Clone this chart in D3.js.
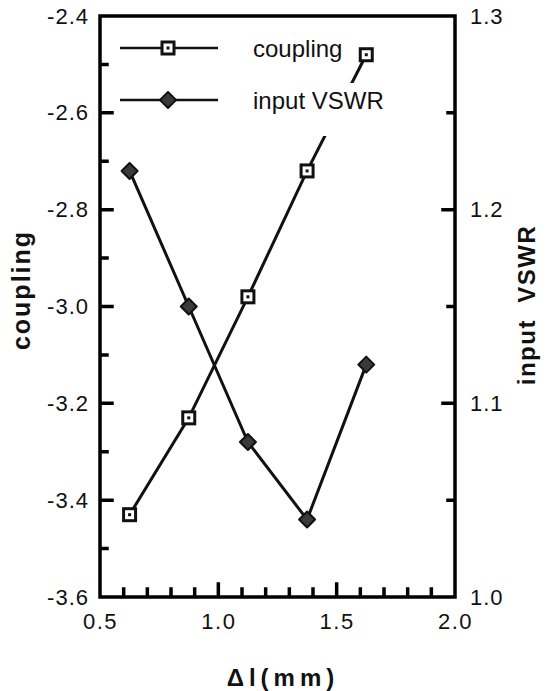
<!DOCTYPE html>
<html>
<head>
<meta charset="utf-8">
<script src="https://cdn.jsdelivr.net/npm/d3@7"></script>
<style>
  body { margin: 0; background: #fff; overflow: hidden; }
  #chart { display: block; }
</style>
</head>
<body>
<svg id="chart"></svg>
<script>
// data
const deltaL = [0.625, 0.875, 1.125, 1.375, 1.625];
const coupling = [-3.43, -3.23, -2.98, -2.72, -2.48];
const inputVSWR = [1.22, 1.15, 1.08, 1.04, 1.12];

const xMajor = [0.5, 1.0, 1.5, 2.0];
const xMinor = [0.6, 0.7, 0.8, 0.9, 1.1, 1.2, 1.3, 1.4, 1.6, 1.7, 1.8, 1.9];
const yLeftMajor = [-2.4, -2.6, -2.8, -3.0, -3.2, -3.4, -3.6];
const yLeftMinor = [-2.5, -2.7, -2.9, -3.1, -3.3, -3.5];
const yRightMajor = [1.0, 1.1, 1.2, 1.3];
const yRightMinor = [1.05, 1.15, 1.25];

const legendLabels = ["coupling", "input VSWR"];

const W = 549, H = 691;
const margin = { top: 16, right: 94, bottom: 94, left: 100 };
const width = W - margin.left - margin.right;
const height = H - margin.top - margin.bottom;
const font = "'Liberation Sans', Arial, Helvetica, sans-serif";

const svg = d3.select("#chart").attr("width", W).attr("height", H);
const g = svg.append("g").attr("transform", "translate(" + margin.left + "," + margin.top + ")");

const x = d3.scaleLinear().domain([0.5, 2.0]).range([0, width]);
const yL = d3.scaleLinear().domain([-3.6, -2.4]).range([height, 0]);
const yR = d3.scaleLinear().domain([1.0, 1.3]).range([height, 0]);

// plain hyphen for negatives, like the original
const fmt = d => d.toFixed(1);

// tick labels through d3 axes
function labels(axis, sel, spacing) {
  sel.call(axis.tickSize(0))
    .call(s => s.select(".domain").remove())
    .selectAll("text")
    .attr("fill", "#111")
    .style("font-family", font).style("font-size", "22px")
    .attr("letter-spacing", spacing);
}
labels(d3.axisBottom(x).tickValues(xMajor).tickPadding(16).tickFormat(fmt),
  g.append("g").attr("transform", "translate(0," + height + ")"), 1.5);
labels(d3.axisLeft(yL).tickValues(yLeftMajor).tickPadding(11).tickFormat(fmt),
  g.append("g"), 1);
labels(d3.axisRight(yR).tickValues(yRightMajor).tickPadding(15).tickFormat(fmt),
  g.append("g").attr("transform", "translate(" + width + ",0)"), 1);

// lines
const lineL = d3.line().x((d, i) => x(deltaL[i])).y(d => yL(d));
const lineR = d3.line().x((d, i) => x(deltaL[i])).y(d => yR(d));

g.append("path").datum(coupling).attr("d", lineL)
  .attr("fill", "none").attr("stroke", "#111").attr("stroke-width", 3);
g.append("path").datum(inputVSWR).attr("d", lineR)
  .attr("fill", "none").attr("stroke", "#111").attr("stroke-width", 3);

// legend backgrounds hide part of the coupling line, like the original
g.append("rect").attr("x", 14).attr("y", 3).attr("width", 232).attr("height", 64).attr("fill", "#fff");
g.append("rect").attr("x", 14).attr("y", 67).attr("width", 282).attr("height", 53).attr("fill", "#fff");

function square(sel) {
  sel.append("rect").attr("x", -6).attr("y", -6).attr("width", 12).attr("height", 12)
    .attr("fill", "#fff").attr("stroke", "#111").attr("stroke-width", 3);
  sel.append("rect").attr("x", -1.5).attr("y", -1.5).attr("width", 3).attr("height", 3).attr("fill", "#111");
}
function diamond(sel) {
  sel.append("path").attr("d", "M0,-8 L8,0 L0,8 L-8,0 Z")
    .attr("fill", "#3a3a3a").attr("stroke", "#111").attr("stroke-width", 2).attr("stroke-linejoin", "round");
}

// markers
g.selectAll(".sq").data(coupling).enter().append("g").attr("class", "sq")
  .attr("transform", (d, i) => "translate(" + x(deltaL[i]) + "," + yL(d) + ")")
  .call(square);
g.selectAll(".dm").data(inputVSWR).enter().append("g").attr("class", "dm")
  .attr("transform", (d, i) => "translate(" + x(deltaL[i]) + "," + yR(d) + ")")
  .call(diamond);

// legend
const legend = g.append("g");
const rows = legend.selectAll(".row").data(legendLabels).enter().append("g")
  .attr("transform", (d, i) => "translate(0," + (32 + i * 52) + ")");
rows.append("line").attr("x1", 20).attr("x2", 118)
  .attr("stroke", "#111").attr("stroke-width", 2.5);
rows.filter((d, i) => i === 0).append("g").attr("transform", "translate(68,0)").call(square);
rows.filter((d, i) => i === 1).append("g").attr("transform", "translate(68,0)").call(diamond);
rows.append("text").attr("x", 153).attr("y", 9).attr("fill", "#111")
  .style("font-family", font).style("font-size", "24px").text(d => d);

// frame and inward ticks, drawn last so nothing covers them
let frame = "M0,0H" + width + "V" + height + "H0Z";
xMinor.forEach(v => { frame += "M" + x(v) + "," + height + "v-8"; });
xMajor.forEach(v => { frame += "M" + x(v) + "," + height + "v-13"; });
yLeftMinor.forEach(v => { frame += "M0," + yL(v) + "h7"; });
yLeftMajor.forEach(v => { frame += "M0," + yL(v) + "h12"; });
yRightMinor.forEach(v => { frame += "M" + width + "," + yR(v) + "h-7"; });
yRightMajor.forEach(v => { frame += "M" + width + "," + yR(v) + "h-12"; });
g.append("path").attr("d", frame)
  .attr("fill", "none").attr("stroke", "#000").attr("stroke-width", 3.5)
  .attr("stroke-linecap", "square");

// axis titles
svg.append("text")
  .attr("transform", "translate(30,290) rotate(-90)")
  .attr("text-anchor", "middle").attr("fill", "#111")
  .style("font-family", font).style("font-size", "25px").style("font-weight", "bold").attr("letter-spacing", 2)
  .text("coupling");
svg.append("text")
  .attr("transform", "translate(535,305) rotate(-90)")
  .attr("text-anchor", "middle").attr("fill", "#111")
  .style("font-family", font).style("font-size", "24px").style("font-weight", "bold").attr("letter-spacing", 1.5)
  .style("white-space", "pre")
  .text("input  VSWR");
svg.append("text")
  .attr("x", 283).attr("y", 686)
  .attr("text-anchor", "middle").attr("fill", "#111")
  .style("font-family", font).style("font-size", "24px").style("font-weight", "bold").attr("letter-spacing", 5)
  .text("Δl(mm)");
</script>
</body>
</html>
